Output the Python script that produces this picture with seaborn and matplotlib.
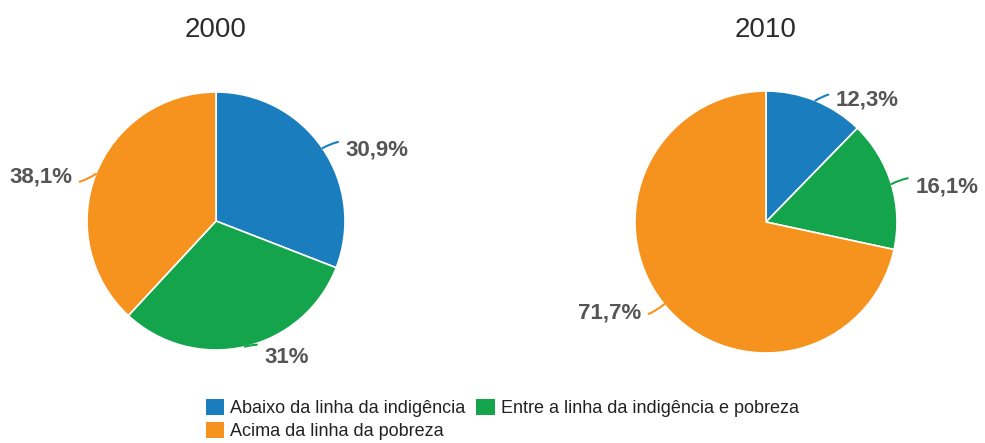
import numpy as np
import matplotlib
matplotlib.use("Agg")
import matplotlib.pyplot as plt
import seaborn as sns
from matplotlib.patches import Patch

anos = ["2000", "2010"]
categorias = ["Abaixo da linha da indigência",
              "Entre a linha da indigência e pobreza",
              "Acima da linha da pobreza"]
valores_2000 = [30.9, 31.0, 38.1]
valores_2010 = [12.3, 16.1, 71.7]
rotulos_2000 = ["30,9%", "31%", "38,1%"]
rotulos_2010 = ["12,3%", "16,1%", "71,7%"]

cores = ["#1a7dbd", "#14a54c", "#f6931e"]

sns.set_theme(style="white")
plt.rcParams["font.family"] = ["Liberation Sans", "DejaVu Sans"]

W, H = 985, 443
fig = plt.figure(figsize=(W / 100, H / 100), dpi=100)
ax = fig.add_axes([0, 0, 1, 1])

# centros e raios em pixels (y de baixo para cima)
pizzas = [
    (valores_2000, rotulos_2000, (216, H - 221), 129),
    (valores_2010, rotulos_2010, (766, H - 222), 131),
]

for (vals, rots, centro, raio), ano in zip(pizzas, anos):
    wedges, _ = ax.pie(vals, colors=cores, startangle=90, counterclock=False,
                       center=centro, radius=raio,
                       wedgeprops=dict(edgecolor="white", linewidth=1.2))
    ax.text(centro[0], H - 30, ano, ha="center", va="center",
            fontsize=20, color="#2b2b2b")
    for w, rot in zip(wedges, rots):
        ang = np.deg2rad((w.theta1 + w.theta2) / 2)
        dx, dy = np.cos(ang), np.sin(ang)
        borda = (centro[0] + raio * dx, centro[1] + raio * dy)
        lado = 1 if dx >= 0 else -1
        ponta = (borda[0] + 6 * dx + 18 * lado, borda[1] + 6 * dy - 5)
        ax.annotate(rot, xy=borda, xytext=ponta,
                    ha="left" if lado > 0 else "right", va="center",
                    fontsize=16, fontweight="bold", color="#555555",
                    arrowprops=dict(arrowstyle="-", color=w.get_facecolor(),
                                    lw=1.5, shrinkA=3, shrinkB=0,
                                    connectionstyle="arc3,rad=0.3"))

ax.set_xlim(0, W)
ax.set_ylim(0, H)
ax.set_aspect("auto")
ax.axis("off")

# legenda preenchida por linhas: (A, E) / (Ac)
ordem = [0, 2, 1]
handles = [Patch(facecolor=cores[i], edgecolor="none") for i in ordem]
fig.legend(handles, [categorias[i] for i in ordem], loc="upper left",
           bbox_to_anchor=(206 / W, 1 - 399 / H),
           ncol=2, frameon=False, fontsize=13, handlelength=1.0, handleheight=1.0,
           handletextpad=0.35, columnspacing=0.6, labelspacing=0.25,
           borderaxespad=0, borderpad=0, labelcolor="#222222")

fig.savefig("out.png", dpi=100)
